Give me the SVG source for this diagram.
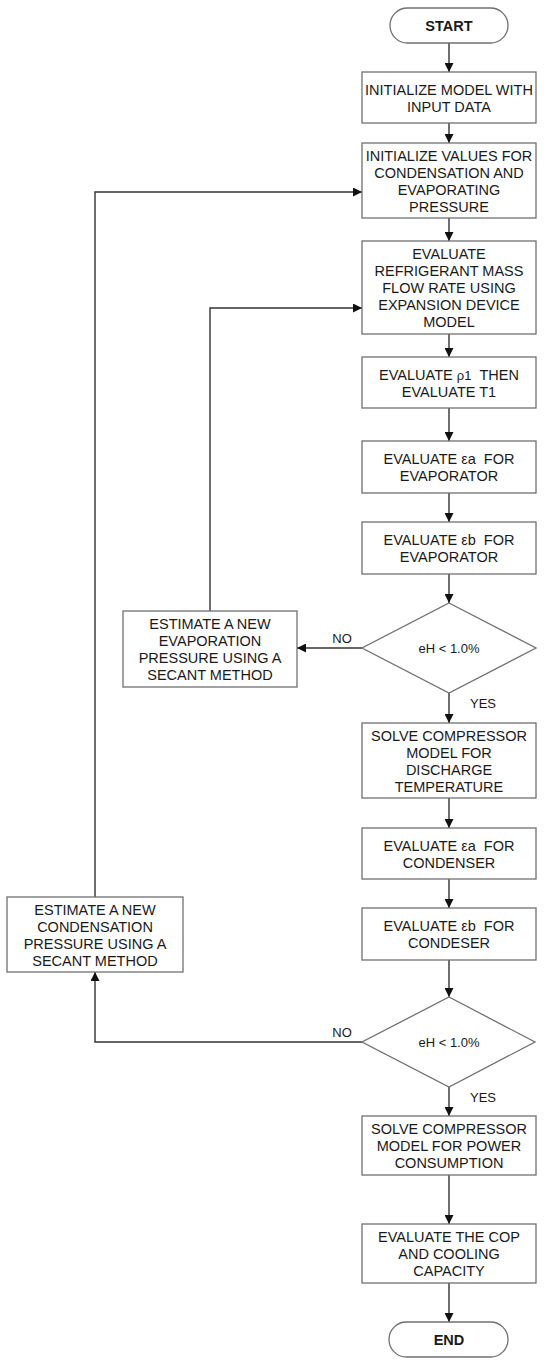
<svg xmlns="http://www.w3.org/2000/svg" width="550" height="1367" viewBox="0 0 550 1367">
<defs>
<marker id="arr" viewBox="0 0 10 10" refX="10" refY="5" markerWidth="9" markerHeight="9" markerUnits="userSpaceOnUse" orient="auto">
<path d="M0,0 L10,5 L0,10 z" fill="#111"/>
</marker>
</defs>
<style>
.box{fill:#fff;stroke:#707070;stroke-width:1.3}
.t{font-family:"Liberation Sans",Arial,sans-serif;font-size:14.5px;fill:#1a1a1a;text-anchor:middle;white-space:pre}
.b{font-weight:bold}
.s{font-size:13px}
.c{fill:none;stroke:#333;stroke-width:1.4}
.ca{fill:none;stroke:#333;stroke-width:1.4;marker-end:url(#arr)}
.g{font-size:13px}
</style>
<rect width="550" height="1367" fill="#fff"/>
<g id="connectors">
<line class="ca" x1="449" y1="43" x2="449" y2="72"/>
<line class="ca" x1="449" y1="123" x2="449" y2="143"/>
<line class="ca" x1="449" y1="218" x2="449" y2="241"/>
<line class="ca" x1="449" y1="334" x2="449" y2="357"/>
<line class="ca" x1="449" y1="408" x2="449" y2="441"/>
<line class="ca" x1="449" y1="493" x2="449" y2="522"/>
<line class="ca" x1="449" y1="574" x2="449" y2="603"/>
<line class="ca" x1="449" y1="693" x2="449" y2="723"/>
<line class="ca" x1="362" y1="648" x2="297" y2="648"/>
<polyline class="ca" points="210,611 210,308 362,308"/>
<line class="ca" x1="449" y1="798" x2="449" y2="828"/>
<line class="ca" x1="449" y1="879" x2="449" y2="908"/>
<line class="ca" x1="449" y1="960" x2="449" y2="997"/>
<line class="ca" x1="449" y1="1087" x2="449" y2="1116"/>
<polyline class="ca" points="362,1042 95,1042 95,972"/>
<polyline class="ca" points="95,897 95,192 362,192"/>
<line class="ca" x1="449" y1="1175" x2="449" y2="1224"/>
<line class="ca" x1="449" y1="1283" x2="449" y2="1322"/>
<text class="t s" x="342" y="643">NO</text>
<text class="t s" x="483" y="708">YES</text>
<text class="t s" x="342" y="1037">NO</text>
<text class="t s" x="483" y="1102">YES</text>
</g>
<g id="start">
<rect class="box" x="390" y="8" width="118" height="35" rx="17.5"/>
<text class="t b" x="449" y="30.5">START</text>
</g>
<g id="init-model">
<rect class="box" x="362" y="72" width="174" height="51"/>
<text class="t" x="449" y="95">INITIALIZE MODEL WITH</text>
<text class="t" x="449" y="112">INPUT DATA</text>
</g>
<g id="init-values">
<rect class="box" x="362" y="143" width="174" height="75"/>
<text class="t" x="449" y="160.5">INITIALIZE VALUES FOR</text>
<text class="t" x="449" y="177.5">CONDENSATION AND</text>
<text class="t" x="449" y="194.5">EVAPORATING</text>
<text class="t" x="449" y="211.5">PRESSURE</text>
</g>
<g id="mass-flow">
<rect class="box" x="362" y="241" width="174" height="93"/>
<text class="t" x="449" y="258.5">EVALUATE</text>
<text class="t" x="449" y="275.5">REFRIGERANT MASS</text>
<text class="t" x="449" y="292.5">FLOW RATE USING</text>
<text class="t" x="449" y="309.5">EXPANSION DEVICE</text>
<text class="t" x="449" y="326.5">MODEL</text>
</g>
<g id="rho">
<rect class="box" x="362" y="357" width="174" height="51"/>
<text class="t" x="449" y="380">EVALUATE <tspan class="g">ρ1</tspan>  THEN</text>
<text class="t" x="449" y="397">EVALUATE T1</text>
</g>
<g id="ea-evap">
<rect class="box" x="362" y="441" width="174" height="52"/>
<text class="t" x="449" y="463.5">EVALUATE εa  FOR</text>
<text class="t" x="449" y="480.5">EVAPORATOR</text>
</g>
<g id="eb-evap">
<rect class="box" x="362" y="522" width="174" height="52"/>
<text class="t" x="449" y="544.5">EVALUATE εb  FOR</text>
<text class="t" x="449" y="561.5">EVAPORATOR</text>
</g>
<g id="decision1">
<polygon class="box" points="449,603 536,648 449,693 362,648"/>
<text class="t s" x="449" y="653">eH &lt; 1.0%</text>
</g>
<g id="new-evap">
<rect class="box" x="123" y="611" width="174" height="76"/>
<text class="t" x="210" y="629">ESTIMATE A NEW</text>
<text class="t" x="210" y="646">EVAPORATION</text>
<text class="t" x="210" y="663">PRESSURE USING A</text>
<text class="t" x="210" y="680">SECANT METHOD</text>
</g>
<g id="discharge">
<rect class="box" x="362" y="723" width="174" height="75"/>
<text class="t" x="449" y="740.5">SOLVE COMPRESSOR</text>
<text class="t" x="449" y="757.5">MODEL FOR</text>
<text class="t" x="449" y="774.5">DISCHARGE</text>
<text class="t" x="449" y="791.5">TEMPERATURE</text>
</g>
<g id="ea-cond">
<rect class="box" x="362" y="828" width="174" height="51"/>
<text class="t" x="449" y="850.5">EVALUATE εa  FOR</text>
<text class="t" x="449" y="867.5">CONDENSER</text>
</g>
<g id="eb-cond">
<rect class="box" x="362" y="908" width="174" height="52"/>
<text class="t" x="449" y="930.5">EVALUATE εb  FOR</text>
<text class="t" x="449" y="947.5">CONDESER</text>
</g>
<g id="new-cond">
<rect class="box" x="7" y="897" width="176" height="75"/>
<text class="t" x="95" y="914.5">ESTIMATE A NEW</text>
<text class="t" x="95" y="931.5">CONDENSATION</text>
<text class="t" x="95" y="948.5">PRESSURE USING A</text>
<text class="t" x="95" y="965.5">SECANT METHOD</text>
</g>
<g id="decision2">
<polygon class="box" points="449,997 535,1042 449,1087 362,1042"/>
<text class="t s" x="449" y="1047">eH &lt; 1.0%</text>
</g>
<g id="power">
<rect class="box" x="362" y="1116" width="174" height="59"/>
<text class="t" x="449" y="1133.5">SOLVE COMPRESSOR</text>
<text class="t" x="449" y="1150.5">MODEL FOR POWER</text>
<text class="t" x="449" y="1167.5">CONSUMPTION</text>
</g>
<g id="cop">
<rect class="box" x="362" y="1224" width="174" height="59"/>
<text class="t" x="449" y="1241.5">EVALUATE THE COP</text>
<text class="t" x="449" y="1258.5">AND COOLING</text>
<text class="t" x="449" y="1275.5">CAPACITY</text>
</g>
<g id="end">
<rect class="box" x="389" y="1322" width="119" height="35" rx="17.5"/>
<text class="t b" x="449" y="1345">END</text>
</g>
</svg>
